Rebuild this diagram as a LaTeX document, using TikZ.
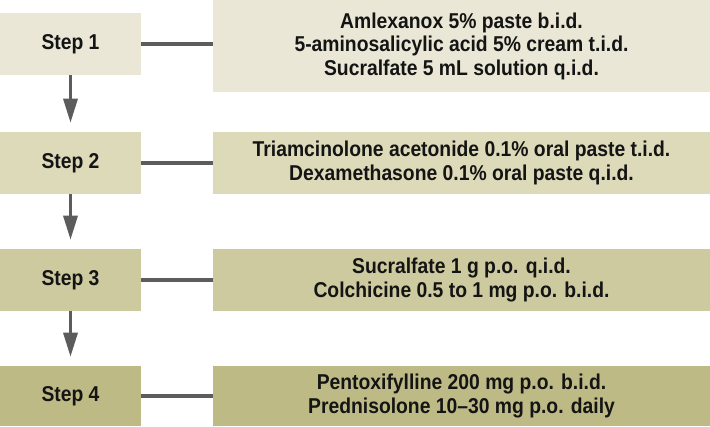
\documentclass[tikz,border=0pt]{standalone}
\usepackage{fontspec}
\setmainfont{Liberation Sans}[FakeStretch=0.9]
\usetikzlibrary{arrows.meta}

\definecolor{stepone}{RGB}{234,231,214}
\definecolor{steptwo}{RGB}{221,218,186}
\definecolor{stepthree}{RGB}{206,202,160}
\definecolor{stepfour}{RGB}{190,186,134}
\definecolor{linkgray}{RGB}{92,92,92}
\definecolor{inkdark}{RGB}{20,20,20}

\newcommand{\drugfont}{\fontsize{16.1}{17.6}\selectfont\bfseries}

\tikzset{
  stepbox/.style={fill=#1, draw=none, inner sep=0pt, minimum width=105.75pt,
    minimum height=46.5pt, text=inkdark, font=\drugfont},
  drugbox/.style={fill=#1, draw=none, inner sep=0pt, minimum width=372.75pt,
    minimum height=46.5pt, text=inkdark, align=center, font=\drugfont},
  link/.style={linkgray, line width=2.4pt},
  nextstep/.style={linkgray, line width=2.4pt, shorten >=6.75pt,
    -{Triangle[width=10.5pt,length=18pt]}}
}

\begin{document}
\begin{tikzpicture}[x=0.75pt, y=-0.75pt]
		\useasboundingbox (0,0) rectangle (710,426);

		% steps
		\node[stepbox=stepone]   (s1) at (70.5,44)  {Step 1};
		\node[stepbox=steptwo]   (s2) at (70.5,163) {Step 2};
		\node[stepbox=stepthree] (s3) at (70.5,280) {Step 3};
		\node[stepbox=stepfour, minimum height=45pt] (s4) at (70.5,396) {Step 4};

		% drugs
		\node[drugbox=stepone, minimum height=69pt] (d1) at (461.5,46)
		  {Amlexanox 5\% paste b.i.d.\\5-aminosalicylic acid 5\% cream t.i.d.\\Sucralfate 5 mL solution q.i.d.};
		\node[drugbox=steptwo] (d2) at (461.5,163)
		  {Triamcinolone acetonide 0.1\% oral paste t.i.d.\\Dexamethasone 0.1\% oral paste q.i.d.};
		\node[drugbox=stepthree] (d3) at (461.5,280)
		  {Sucralfate 1 g p.o. q.i.d.\\Colchicine 0.5 to 1 mg p.o. b.i.d.};
		\node[drugbox=stepfour, minimum height=45pt] (d4) at (461.5,396)
		  {Pentoxifylline 200 mg p.o. b.i.d.\\Prednisolone 10--30 mg p.o. daily};

		% links
		\foreach \i in {1,...,4}
		  \draw[link] (s\i.east) -- (s\i.east -| d\i.west);

		% escalation arrows
		\draw[nextstep] (s1) -- (s2);
		\draw[nextstep] (s2) -- (s3);
		\draw[nextstep] (s3) -- (s4);

\end{tikzpicture}
\end{document}
